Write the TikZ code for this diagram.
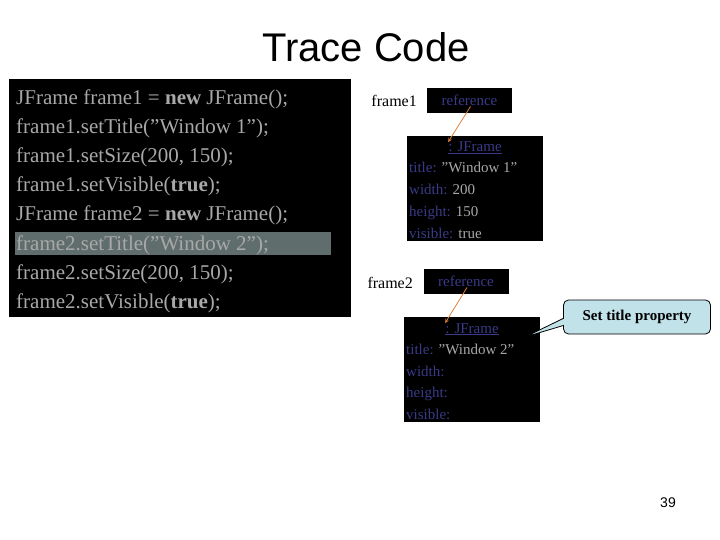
\documentclass[tikz,border=0pt]{standalone}
\usepackage{fontspec}
\setmainfont{Liberation Serif}
\newfontfamily\sans{Liberation Sans}
\usetikzlibrary{calc}
\usetikzlibrary{arrows}
\usetikzlibrary{shapes.callouts}
\definecolor{codegray}{HTML}{A8A8A8}
\definecolor{fieldblue}{HTML}{3A3A88}
\definecolor{hilite}{HTML}{5F6E6C}
\definecolor{tipblue}{HTML}{C0E2E8}
\definecolor{refarrow}{HTML}{E0803A}
\tikzset{
 codeline/.style={anchor=base west, inner sep=0, text=codegray, font=\fontsize{21}{21}\selectfont},
 objline/.style={anchor=base west, inner sep=0, font=\fontsize{15}{15}\selectfont},
 refbox/.style={fill=black, text=fieldblue, inner sep=0, minimum width=85, minimum height=25, font=\fontsize{15}{15}\selectfont},
 varname/.style={anchor=east, inner sep=0, font=\fontsize{16}{16}\selectfont},
}
\newcommand{\fld}[2]{\textcolor{fieldblue}{#1} \textcolor{codegray}{#2}}
\begin{document}
\begin{tikzpicture}[x=1pt, y=-1pt]
\useasboundingbox (0,0) rectangle (720,540);
\node[font=\sans\fontsize{40}{40}\selectfont] (title) at (366,47) {Trace Code};
% code panel
\fill[black] (9,79) rectangle (351,317);
\fill[hilite] (15,232) rectangle (331,255);
\foreach \t [count=\i] in {JFrame frame1 = \textbf{new} JFrame();,
  frame1.setTitle("Window 1");, frame1.setSize(200{,} 150);,
  frame1.setVisible(\textbf{true});, JFrame frame2 = \textbf{new} JFrame();,
  frame2.setTitle("Window 2");, frame2.setSize(200{,} 150);,
  frame2.setVisible(\textbf{true});}
 \node[codeline] (code\i) at (16,{76+29*\i}) {\t};
% frame1
\node[varname] (var1) at (417,101) {frame1};
\node[refbox] (ref1) at (469.5,100.5) {reference};
\fill[black] (407,136) rectangle (543,241);
\node[objline, anchor=base, text=fieldblue] (obj1) at (475,152) {\underline{: JFrame}};
\node[objline] (title1) at (409,173) {\fld{title:}{"Window 1"}};
\node[objline] (width1) at (409,195) {\fld{width:}{200}};
\node[objline] (height1) at (409,216) {\fld{height:}{150}};
\node[objline] (vis1) at (409,238) {\fld{visible:}{true}};
\draw[refarrow, thick, ->, >=stealth] (ref1.center) ++(1,6) -- (obj1.north west);
% frame2
\node[varname] (var2) at (413,283) {frame2};
\node[refbox] (ref2) at (466,281.5) {reference};
\fill[black] (404,317) rectangle (540,422);
\node[objline, anchor=base, text=fieldblue] (obj2) at (472,333) {\underline{: JFrame}};
\node[objline] (title2) at (406,354) {\fld{title:}{"Window 2"}};
\node[objline] (width2) at (406,376) {\fld{width:}{}};
\node[objline] (height2) at (406,397) {\fld{height:}{}};
\node[objline] (vis2) at (406,419) {\fld{visible:}{}};
\draw[refarrow, thick, ->, >=stealth] (ref2.center) ++(1,6) -- (obj2.north west);
% callout
\coordinate (tip) at (525,337);
\node[rectangle callout, draw=black, thick, fill=tipblue, rounded corners=5, minimum width=147, minimum height=34, inner sep=0,
 callout absolute pointer=(tip), font=\bfseries\fontsize{15}{15}\selectfont] (note) at (637,317) {Set title property};
\node[font=\sans\fontsize{14}{14}\selectfont] (page) at (668,503) {39};
\end{tikzpicture}
\end{document}
